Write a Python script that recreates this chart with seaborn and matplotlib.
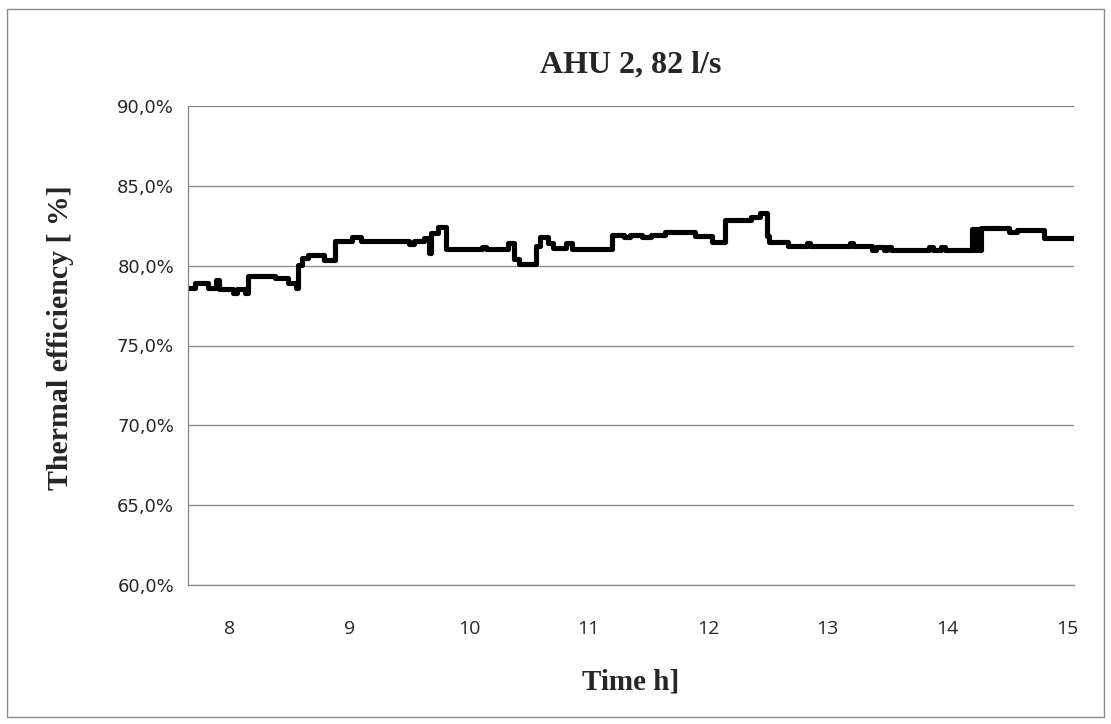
import matplotlib
matplotlib.use("Agg")
import matplotlib.pyplot as plt
from matplotlib.ticker import FuncFormatter
from matplotlib.patches import Rectangle
import pandas as pd
import seaborn as sns

# step-wise thermal efficiency readings (hour of day, efficiency %)
time_h = [7.65, 7.71, 7.82, 7.88, 7.91, 8.03, 8.06, 8.13, 8.15, 8.38, 8.49,
          8.55, 8.57, 8.60, 8.65, 8.79, 8.88, 9.02, 9.10, 9.50, 9.54, 9.62,
          9.665, 9.685, 9.74, 9.81, 10.11, 10.14, 10.33, 10.38, 10.42, 10.56,
          10.59, 10.66, 10.70, 10.81, 10.86, 11.20, 11.30, 11.35, 11.45,
          11.52, 11.64, 11.89, 12.03, 12.14, 12.36, 12.43, 12.49, 12.51,
          12.67, 12.83, 12.85, 13.19, 13.21, 13.37, 13.40, 13.47, 13.50,
          13.53, 13.85, 13.88, 13.95, 13.98, 14.21, 14.23, 14.25, 14.27,
          14.28, 14.52, 14.58, 14.81, 15.05]
efficiency = [78.6, 78.9, 78.6, 79.1, 78.55, 78.3, 78.55, 78.3, 79.35, 79.2,
              78.9, 78.6, 80.05, 80.45, 80.65, 80.35, 81.55, 81.8, 81.55,
              81.35, 81.55, 81.75, 80.8, 82.05, 82.45, 81.05, 81.2, 81.05,
              81.45, 80.4, 80.1, 81.25, 81.8, 81.45, 81.1, 81.45, 81.05,
              81.95, 81.8, 81.95, 81.8, 81.95, 82.1, 81.85, 81.5, 82.85,
              83.05, 83.3, 81.85, 81.5, 81.25, 81.45, 81.25, 81.45, 81.25,
              81.0, 81.15, 81.0, 81.15, 81.0, 81.2, 81.0, 81.2, 81.0, 82.3,
              81.0, 82.3, 80.95, 82.35, 82.1, 82.25, 81.75, 81.75]

x_ticks = [8, 9, 10, 11, 12, 13, 14, 15]
y_ticks = [60, 65, 70, 75, 80, 85, 90]

df = pd.DataFrame({"time": time_h, "eff": efficiency})

sns.set_style("white")
plt.rcParams['font.family'] = ['DejaVu Sans']

fig = plt.figure(figsize=(11.11, 7.24), dpi=100)
ax = fig.add_axes([188 / 1111, 1 - 585 / 724, (1074 - 188) / 1111, (585 - 106) / 724])

sns.lineplot(data=df, x="time", y="eff", ax=ax, color="black", linewidth=3.7,
             drawstyle="steps-post", estimator=None, solid_joinstyle="round",
             solid_capstyle="round")

ax.set_xlim(7.65, 15.06)
ax.set_ylim(60, 90)
ax.set_xticks(x_ticks)
ax.set_yticks(y_ticks)
ax.yaxis.set_major_formatter(FuncFormatter(lambda v, p: f"{v:.1f}%".replace(".", ",")))
ax.grid(axis="y", color="#868686", linewidth=0.9)
ax.grid(axis="x", visible=False)
ax.set_axisbelow(True)

for side in ["top", "right"]:
    ax.spines[side].set_visible(False)
for side in ["left", "bottom"]:
    ax.spines[side].set_color("#868686")
    ax.spines[side].set_linewidth(0.9)

ax.tick_params(axis="y", length=6, color="#868686", width=0.9, pad=4, labelsize=13)
ax.tick_params(axis="x", length=0, pad=25, labelsize=14)
for lab in ax.get_xticklabels():
    lab.set_family(["Liberation Sans Narrow", "Open Sans"])

ax.set_xlabel("")
ax.set_ylabel("")
serif = ["Liberation Serif", "DejaVu Serif"]
fig.text(631 / 1111, 1 - 65 / 724, "AHU 2, 82 l/s", ha="center", va="center",
         fontsize=23, fontweight="bold", family=serif)
fig.text(631 / 1111, 1 - 682 / 724, "Time h]", ha="center", va="center",
         fontsize=21, fontweight="bold", family=serif)
fig.text(61 / 1111, 1 - 338 / 724, "Thermal efficiency [ %]", ha="center", va="center",
         rotation=90, fontsize=21.5, fontweight="bold", family=serif)

fig.patches.append(Rectangle((7 / 1111, 7 / 724), 1097 / 1111, 708 / 724,
                             transform=fig.transFigure, fill=False,
                             edgecolor="#8c8c8c", linewidth=1))

fig.savefig("out.png", dpi=100)
